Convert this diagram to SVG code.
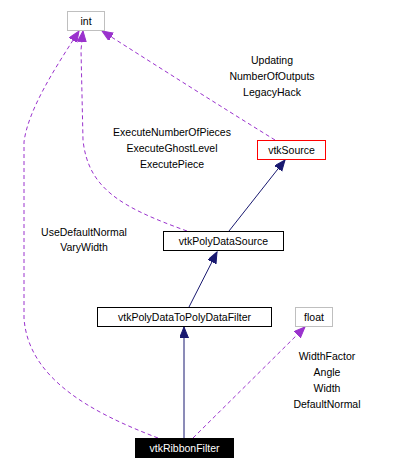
<svg xmlns="http://www.w3.org/2000/svg" width="409" height="469" viewBox="0 0 409 469">
<style>
text{font-family:"Liberation Sans",Arial,sans-serif;font-size:10.5px;fill:#000}
.c{text-anchor:middle}
.box{fill:#fff;stroke:#000;stroke-width:1}
.grey{stroke:#bfbfbf}
.red{stroke:#ff0000}
.inh{fill:none;stroke:#191970;stroke-width:1}
.use{fill:none;stroke:#9a32cd;stroke-width:1;stroke-dasharray:4,3}
</style>
<defs>
<marker id="an" markerWidth="12" markerHeight="10" refX="11" refY="4.5" orient="auto" markerUnits="userSpaceOnUse">
<path d="M0,0 L11,4.5 L0,9 Z" fill="#191970" stroke="#191970"/>
</marker>
<marker id="ap" markerWidth="12" markerHeight="10" refX="11" refY="4.5" orient="auto" markerUnits="userSpaceOnUse">
<path d="M0,0 L11,4.5 L0,9 Z" fill="#9a32cd" stroke="#9a32cd"/>
</marker>
</defs>
<rect width="409" height="469" fill="#fff"/>
<g id="connectors">
<path class="inh" d="M229,231 L285,160" marker-end="url(#an)"/>
<path class="inh" d="M189,307 L217,252" marker-end="url(#an)"/>
<path class="inh" d="M184,438 L184,327" marker-end="url(#an)"/>
<path class="use" d="M193,438 L305,327" marker-end="url(#ap)"/>
<path class="use" d="M275,140 C220,106 160,68 102,31" marker-end="url(#ap)"/>
<path class="use" d="M187,231 C120,207 88,188 83,140 L81,50 L83,31" marker-end="url(#ap)"/>
<path class="use" d="M158,438 C90,412 28,378 24,318 L24,142 C28,110 55,68 79,31" marker-end="url(#ap)"/>
<text class="c" x="272" y="64">Updating</text>
<text class="c" x="272" y="80">NumberOfOutputs</text>
<text class="c" x="272" y="96">LegacyHack</text>
<text class="c" x="172" y="136">ExecuteNumberOfPieces</text>
<text class="c" x="172" y="152">ExecuteGhostLevel</text>
<text class="c" x="172" y="168">ExecutePiece</text>
<text class="c" x="84" y="236">UseDefaultNormal</text>
<text class="c" x="84" y="251">VaryWidth</text>
<text class="c" x="327" y="360">WidthFactor</text>
<text class="c" x="327" y="376">Angle</text>
<text class="c" x="327" y="392">Width</text>
<text class="c" x="327" y="408">DefaultNormal</text>
</g>
<g id="int"><rect class="box grey" x="67.5" y="11.5" width="37" height="19"/><text class="c" x="86" y="25">int</text></g>
<g id="vtkSource"><rect class="box red" x="257.5" y="140.5" width="68" height="19"/><text class="c" x="291.5" y="154">vtkSource</text></g>
<g id="vtkPolyDataSource"><rect class="box" x="163.5" y="231.5" width="120" height="19"/><text class="c" x="223.5" y="245">vtkPolyDataSource</text></g>
<g id="vtkPolyDataToPolyDataFilter"><rect class="box" x="97.5" y="307.5" width="174" height="19"/><text class="c" x="184.5" y="321">vtkPolyDataToPolyDataFilter</text></g>
<g id="float"><rect class="box grey" x="295.5" y="307.5" width="37" height="19"/><text class="c" x="314" y="321">float</text></g>
<g id="vtkRibbonFilter"><rect x="135" y="438" width="99" height="20" fill="#000"/><text class="c" x="184.5" y="452" style="fill:#fff">vtkRibbonFilter</text></g>
</svg>
